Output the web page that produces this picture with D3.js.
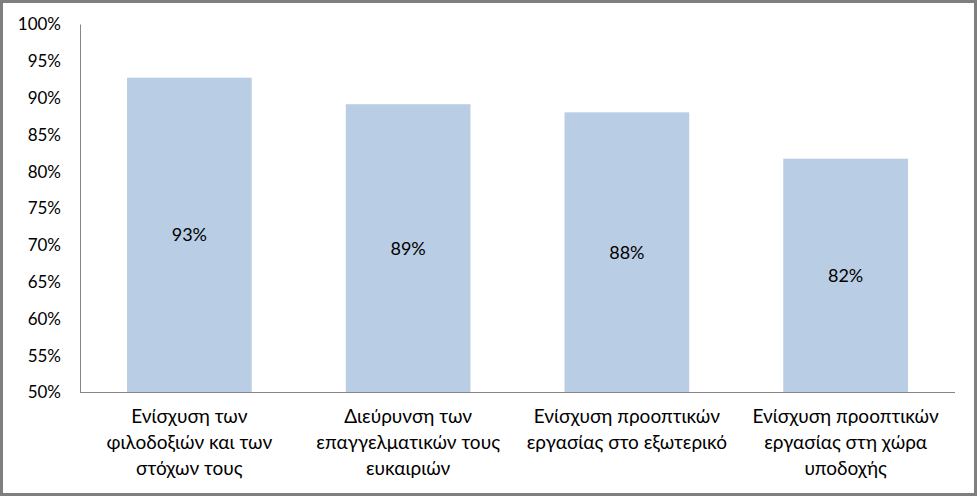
<!DOCTYPE html>
<html><head><meta charset="utf-8">
<script src="https://cdn.jsdelivr.net/npm/d3@7"></script>
<style>body{margin:0;background:#fff}svg{display:block}text{font-family:Lato,"Open Sans",sans-serif;fill:#000}</style>
</head><body><svg id="c" width="977" height="496"></svg>
<script>
const categories = [
  ["Ενίσχυση των", "φιλοδοξιών και των", "στόχων τους"],
  ["Διεύρυνση των", "επαγγελματικών τους", "ευκαιριών"],
  ["Ενίσχυση προοπτικών", "εργασίας στο εξωτερικό"],
  ["Ενίσχυση προοπτικών", "εργασίας στη χώρα", "υποδοχής"]
];
const values = [0.927, 0.891, 0.880, 0.817];
const labels = ["93%", "89%", "88%", "82%"];
const yTicks = [0.5,0.55,0.6,0.65,0.7,0.75,0.8,0.85,0.9,0.95,1.0];

const svg = d3.select("#c");
svg.append("rect").attr("x",1.5).attr("y",1.5).attr("width",974).attr("height",493)
  .attr("fill","#fff").attr("stroke","#7f7f7f").attr("stroke-width",3);

const pLeft=80, pRight=955, pTop=24, pBottom=392;
const x = d3.scaleBand().domain(d3.range(values.length)).range([pLeft,pRight]).paddingInner(0.43).paddingOuter(0.215);
const y = d3.scaleLinear().domain([0.5,1.0]).range([pBottom,pTop]);

svg.selectAll("rect.bar").data(values).join("rect").attr("class","bar")
  .attr("x",(d,i)=>x(i)).attr("width",x.bandwidth())
  .attr("y",d=>y(d)).attr("height",d=>pBottom-y(d)).attr("fill","#b9cde5");

svg.selectAll("text.val").data(values).join("text").attr("class","val")
  .attr("x",(d,i)=>x(i)+x.bandwidth()/2).attr("y",d=>(y(d)+pBottom)/2+2)
  .attr("text-anchor","middle").attr("dominant-baseline","middle").attr("font-size",18)
  .text((d,i)=>labels[i]);

const ya = d3.axisLeft(y).tickValues(yTicks).tickFormat(d3.format(".0%")).tickSize(0).tickPadding(19);
const gy = svg.append("g").attr("transform",`translate(${pLeft},0)`).call(ya);
gy.select(".domain").attr("stroke","#868686");
gy.selectAll("text").attr("font-size",17).attr("dy","0.35em").attr("font-family",null);

svg.append("line").attr("x1",pLeft).attr("x2",pRight).attr("y1",pBottom+0.5).attr("y2",pBottom+0.5).attr("stroke","#868686");

const gx = svg.append("g");
categories.forEach((lines,i)=>{
  const t = gx.append("text").attr("text-anchor","middle").attr("font-size",19)
    .attr("x",x(i)+x.bandwidth()/2).attr("y",423);
  lines.forEach((l,j)=>t.append("tspan").attr("x",x(i)+x.bandwidth()/2).attr("dy",j===0?0:26).text(l));
});
</script></body></html>
